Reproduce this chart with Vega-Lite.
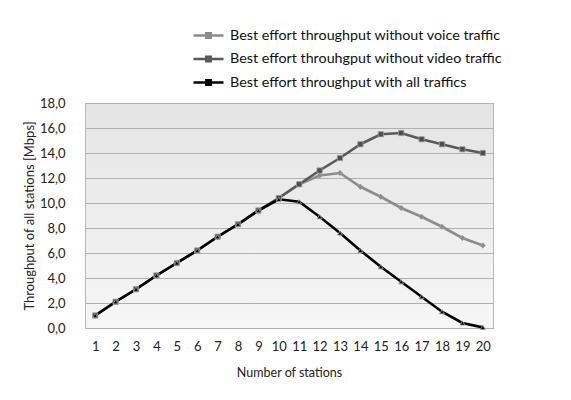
{
  "$schema": "https://vega.github.io/schema/vega-lite/v6.json",
  "width": 408,
  "height": 225,
  "autosize": "none",
  "padding": {"left": 85, "top": 103, "right": 78, "bottom": 72},
  "background": "white",
  "config": {
    "font": "Lato",
    "view": {
      "stroke": "#b8b8b8",
      "strokeWidth": 1,
      "fill": {"gradient": "linear", "x1": 0, "y1": 0, "x2": 0, "y2": 1,
        "stops": [{"offset": 0, "color": "#e4e4e4"}, {"offset": 1, "color": "#f6f6f6"}]}
    },
    "axis": {"labelFont": "Lato", "titleFont": "Lato", "labelColor": "#222", "titleColor": "#222", "titleFontWeight": "normal"}
  },
  "data": {"values": [
    {"n": 1, "series": "voice", "v": 1.0}, {"n": 2, "series": "voice", "v": 2.1}, {"n": 3, "series": "voice", "v": 3.1}, {"n": 4, "series": "voice", "v": 4.2}, {"n": 5, "series": "voice", "v": 5.2},
    {"n": 6, "series": "voice", "v": 6.2}, {"n": 7, "series": "voice", "v": 7.3}, {"n": 8, "series": "voice", "v": 8.3}, {"n": 9, "series": "voice", "v": 9.4}, {"n": 10, "series": "voice", "v": 10.4},
    {"n": 11, "series": "voice", "v": 11.5}, {"n": 12, "series": "voice", "v": 12.2}, {"n": 13, "series": "voice", "v": 12.4}, {"n": 14, "series": "voice", "v": 11.3}, {"n": 15, "series": "voice", "v": 10.5},
    {"n": 16, "series": "voice", "v": 9.6}, {"n": 17, "series": "voice", "v": 8.9}, {"n": 18, "series": "voice", "v": 8.1}, {"n": 19, "series": "voice", "v": 7.2}, {"n": 20, "series": "voice", "v": 6.6},
    {"n": 1, "series": "video", "v": 1.0}, {"n": 2, "series": "video", "v": 2.1}, {"n": 3, "series": "video", "v": 3.1}, {"n": 4, "series": "video", "v": 4.2}, {"n": 5, "series": "video", "v": 5.2},
    {"n": 6, "series": "video", "v": 6.2}, {"n": 7, "series": "video", "v": 7.3}, {"n": 8, "series": "video", "v": 8.3}, {"n": 9, "series": "video", "v": 9.4}, {"n": 10, "series": "video", "v": 10.4},
    {"n": 11, "series": "video", "v": 11.5}, {"n": 12, "series": "video", "v": 12.6}, {"n": 13, "series": "video", "v": 13.6}, {"n": 14, "series": "video", "v": 14.7}, {"n": 15, "series": "video", "v": 15.5},
    {"n": 16, "series": "video", "v": 15.6}, {"n": 17, "series": "video", "v": 15.1}, {"n": 18, "series": "video", "v": 14.7}, {"n": 19, "series": "video", "v": 14.3}, {"n": 20, "series": "video", "v": 14.0},
    {"n": 1, "series": "all", "v": 1.0}, {"n": 2, "series": "all", "v": 2.1}, {"n": 3, "series": "all", "v": 3.1}, {"n": 4, "series": "all", "v": 4.2}, {"n": 5, "series": "all", "v": 5.2},
    {"n": 6, "series": "all", "v": 6.2}, {"n": 7, "series": "all", "v": 7.3}, {"n": 8, "series": "all", "v": 8.3}, {"n": 9, "series": "all", "v": 9.4}, {"n": 10, "series": "all", "v": 10.3},
    {"n": 11, "series": "all", "v": 10.1}, {"n": 12, "series": "all", "v": 8.9}, {"n": 13, "series": "all", "v": 7.6}, {"n": 14, "series": "all", "v": 6.2}, {"n": 15, "series": "all", "v": 4.9},
    {"n": 16, "series": "all", "v": 3.7}, {"n": 17, "series": "all", "v": 2.5}, {"n": 18, "series": "all", "v": 1.3}, {"n": 19, "series": "all", "v": 0.4}, {"n": 20, "series": "all", "v": 0.05}
  ]},
  "encoding": {
    "x": {"field": "n", "type": "ordinal", "title": "Number of stations",
      "axis": {"labelAngle": 0, "ticks": false, "tickSize": 0, "domain": false, "labelPadding": 12, "labelFontSize": 13, "titleFontSize": 12.5, "titlePadding": 13}},
    "y": {"field": "v", "type": "quantitative", "title": "Throughput of all stations  [Mbps]",
      "scale": {"domain": [0, 18], "nice": false},
      "axis": {"values": [0, 2, 4, 6, 8, 10, 12, 14, 16, 18], "labelExpr": "replace(format(datum.value, '.1f'), '.', ',')",
        "ticks": false, "tickSize": 0, "domain": false, "labelPadding": 20, "labelFontSize": 13, "titleFontSize": 13, "titlePadding": 3,
        "grid": true, "gridColor": "#b0b0b0", "gridWidth": 1}}
  },
  "layer": [
    {
      "mark": {"type": "line", "strokeWidth": 2.6},
      "encoding": {
        "color": {"field": "series", "type": "nominal",
          "scale": {"domain": ["voice", "video", "all"], "range": ["#8c8c8c", "#595959", "#000000"]},
          "legend": {"orient": "none", "legendX": 112, "legendY": -79, "title": null,
            "labelExpr": "datum.value == 'voice' ? 'Best effort throughput without voice traffic' : datum.value == 'video' ? 'Best effort throuhgput without video traffic' : 'Best effort throughput with all traffics'",
            "symbolType": "M-1.5,0H1.5M-0.22,-0.22H0.22V0.22H-0.22Z", "symbolSize": 400, "symbolStrokeWidth": 2.5,
            "labelFont": "Lato", "labelFontSize": 14.3, "labelColor": "#111", "labelOffset": 10, "labelLimit": 500, "rowPadding": 4.5, "padding": 0}}
      }
    },
    {
      "transform": [{"filter": "datum.series == 'voice'"}],
      "mark": {"type": "point", "filled": true, "size": 28, "shape": "diamond", "fill": "#8c8c8c", "stroke": "#a0a0a0", "strokeWidth": 0.8, "opacity": 1}
    },
    {
      "transform": [{"filter": "datum.series == 'video'"}],
      "mark": {"type": "point", "filled": true, "size": 28, "shape": "square", "fill": "#4d4d4d", "stroke": "#a0a0a0", "strokeWidth": 0.8, "opacity": 1}
    },
    {
      "transform": [{"filter": "datum.series == 'all'"}],
      "mark": {"type": "point", "filled": true, "size": 24, "shape": "triangle-up", "fill": "#000000", "stroke": "#999999", "strokeWidth": 0.8, "opacity": 1}
    }
  ]
}
